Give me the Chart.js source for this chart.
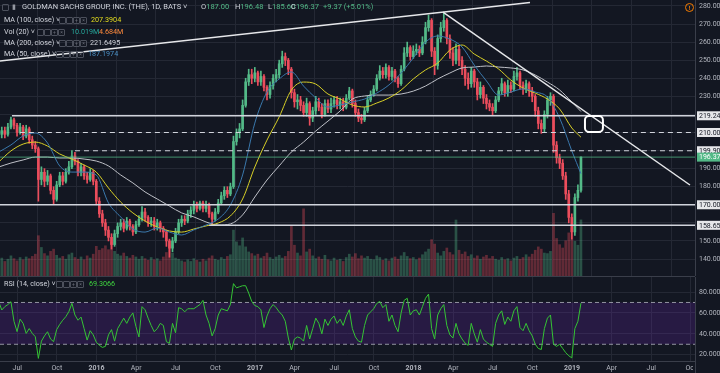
<!DOCTYPE html>
<html>
<head>
<meta charset="utf-8">
<title>GOLDMAN SACHS GROUP, INC. (THE), 1D</title>
<script src="https://cdn.jsdelivr.net/npm/chart.js"></script>
<style>
  body { margin: 0; background: #131722; width: 720px; height: 373px; overflow: hidden; position: relative;
         font-family: Roboto, "Liberation Sans", sans-serif; }
  .pane { position: absolute; left: 0; width: 720px; }
  .t { position: absolute; font-size: 7.2px; line-height: 10px; color: #d1d4dc; white-space: nowrap; z-index: 5; }
  .ico { position: absolute; width: 5px; height: 5px; border: 1px solid #4c505c; border-radius: 1px; z-index: 5;
         font-size: 5px; line-height: 5px; color: #6a6d78; text-align: center; }
  .sep { position: absolute; left: 0; width: 695px; height: 1px; background: #3a3e4a; }
</style>
</head>
<body>
<div class="pane" style="top:0;height:276px"><canvas id="priceChart"></canvas></div>
<div class="sep" style="top:276px"></div>
<div class="pane" style="top:277px;height:96px"><canvas id="rsiChart"></canvas></div>

<div class="ico" style="left:2px;top:4px"></div>
<div class="t" style="left:12px;top:2px;color:#9598a1">&#9646;</div>
<div class="t" style="left:22px;top:2px;font-size:7.5px">GOLDMAN SACHS GROUP, INC. (THE), 1D, BATS &#709;</div>
<div class="t" style="left:201px;top:2px;font-size:7.5px">O<span style="color:#53b987">187.00</span></div>
<div class="t" style="left:235px;top:2px;font-size:7.5px">H<span style="color:#53b987">196.48</span></div>
<div class="t" style="left:268px;top:2px;font-size:7.5px">L<span style="color:#53b987">185.60</span></div>
<div class="t" style="left:291px;top:2px;font-size:7.5px">C<span style="color:#53b987">196.37</span></div>
<div class="t" style="left:323px;top:2px;font-size:7.5px;color:#53b987">+9.37 (+5.01%)</div>

<div class="t" style="left:4px;top:15px">MA (100, close) &#709;</div>
<div class="t" style="left:91px;top:15px;color:#e3dc1e">207.3904</div>
<div class="t" style="left:4px;top:27px">Vol (20) &#709;</div>
<div class="t" style="left:71px;top:27px;color:#26a69a">10.019M</div>
<div class="t" style="left:99px;top:27px;color:#ff8a3d">4.684M</div>
<div class="t" style="left:4px;top:38px">MA (200, close) &#709;</div>
<div class="t" style="left:90px;top:38px;color:#d1d4dc">221.6495</div>
<div class="t" style="left:4px;top:49px">MA (50, close) &#709;</div>
<div class="t" style="left:88px;top:49px;color:#4a8fc4">187.1974</div>
<div class="t" style="left:4px;top:279px">RSI (14, close) &#709;</div>
<div class="t" style="left:89px;top:279px;color:#3ed13e">69.3066</div>
<div style="position:absolute;left:685px;top:3px;width:7px;height:7px;border:1px solid #f57c00;border-radius:50%;
            color:#f57c00;font-size:6px;line-height:7px;text-align:center;font-weight:bold;z-index:5">!</div>

<script>
// ---- data (weekly bars, x in months from Jan 2016) ----
const firstWeek = -7.40;
const firstOpen = 207;

const closes = [
  209, 211, 209, 213, 217, 214, 210, 213, 208, 212,
  206, 203, 201, 184, 188, 183, 186, 178, 173, 181,
  186, 183, 188, 191, 197, 194, 188, 191, 186, 184,
  188, 183, 172, 165, 160, 156, 152, 148, 154, 158,
  160, 157, 161, 158, 155, 159, 162, 166, 163, 160,
  161, 158, 160, 157, 155, 150, 146, 150, 155, 160,
  162, 161, 165, 167, 170, 168, 171, 168, 170, 165,
  162, 166, 171, 175, 178, 176, 180, 205, 210, 212,
  225, 238, 242, 240, 243, 238, 241, 235, 231, 236,
  240, 242, 248, 252, 250, 245, 232, 227, 228, 225,
  221, 226, 218, 222, 227, 224, 220, 226, 223, 226,
  228, 225, 227, 224, 229, 233, 226, 221, 218, 217,
  222, 228, 231, 234, 240, 244, 242, 246, 241, 244,
  240, 237, 245, 254, 257, 252, 255, 256, 254, 260,
  268, 272, 255, 247, 262, 268, 272, 262, 254, 250,
  256, 250, 245, 240, 237, 244, 238, 231, 235, 229,
  226, 224, 222, 228, 233, 237, 232, 236, 234, 241,
  243, 236, 234, 237, 233, 230, 222, 215, 212, 220,
  228, 230, 203, 196, 193, 186, 176, 163, 155, 174,
  178, 196.37
];
const highs = [
  212, 213, 213, 215, 218.5, 218, 215, 215, 214, 214,
  213, 208, 205, 202, 191, 190, 189, 187, 180, 183,
  188, 188, 190, 194, 200, 199, 195, 193, 192, 188,
  190, 189, 184, 174, 167, 162, 158, 154, 156, 160,
  162, 162, 163, 162, 159, 161, 164, 169, 168, 164,
  163, 163, 162, 161, 158, 156, 151, 152, 157, 162,
  164, 164, 167, 169, 172, 171.5, 172, 172, 172, 171,
  166, 168, 173, 177, 180, 180, 182, 208, 212, 215,
  228, 240, 245, 245, 246, 244, 244, 242, 236, 238,
  242, 245, 250, 255, 254, 251, 246, 234, 231, 230,
  227, 229, 227, 224, 230, 229, 226, 228, 228, 229,
  230, 230, 229, 229, 231, 235, 234, 228, 223, 220,
  224, 230, 233, 236, 242, 247, 246, 248, 247, 246,
  245, 241, 247, 257, 260, 258, 258, 259, 258, 263,
  271, 275, 273, 257, 264, 271, 276.5, 273, 264, 257,
  259, 258, 252, 247, 243, 246, 245, 240, 238, 236,
  231, 228, 226, 230, 235, 240, 238, 239, 238, 244,
  246, 244, 238, 239, 238, 235, 231, 224, 217, 222,
  230, 232, 231, 205, 198, 195, 188, 178, 165, 176,
  181, 196.48
];
const lows = [
  205, 207, 207, 208, 212, 212, 208, 209, 206, 207,
  204, 201, 199, 172, 181, 180, 181, 176, 170.5, 172,
  180, 181, 182, 187, 190, 192, 186, 186, 184, 182,
  183, 181, 170, 163, 158, 153, 150, 145.5, 147, 152,
  156, 155, 156, 156, 153, 154, 158, 161, 161, 158,
  158, 156, 156, 155, 152, 147, 141, 144, 149, 154,
  158, 159, 160, 163, 165, 166, 167, 166, 166, 163,
  159, 161, 165, 170, 173, 174, 175, 179, 203, 207,
  211, 224, 236, 237, 238, 236, 236, 233, 228, 229,
  234, 238, 240, 246, 247, 242, 229, 224, 223, 222,
  219, 219, 214, 216, 220, 222, 218, 219, 221, 221,
  224, 223, 223, 222, 223, 228, 224, 219, 216, 215,
  216, 221, 227, 230, 233, 239, 240, 240, 239, 239,
  238, 235, 236, 244, 252, 250, 251, 253, 252, 253,
  259, 266, 252, 242, 245, 260, 266, 259, 251, 247,
  248, 247, 242, 236, 234, 235, 235, 228, 229, 226,
  223, 222, 219.5, 221, 227, 231, 230, 230, 232, 233,
  239, 234, 231, 232, 230, 227, 219, 212, 209.5, 210,
  218, 225, 199, 193, 190, 184, 173, 160, 151, 153,
  172, 177
];
// daily volume, millions
const volumes = [
  2.8, 3.2, 2.6, 3.0, 3.6, 3.1, 2.7, 3.3, 2.9, 3.4,
  3.1, 3.5, 3.9, 7.2, 5.1, 4.0, 3.6, 4.4, 4.8, 3.7,
  3.2, 3.5, 3.0, 3.8, 4.1, 3.3, 3.0, 3.4, 2.9, 3.6,
  3.2, 3.9, 5.3, 4.6, 4.9, 5.4, 4.7, 6.0, 4.4, 3.9,
  3.6, 4.1, 3.5, 3.2, 3.7, 3.4, 3.0, 3.5, 3.1, 2.8,
  3.3, 2.9, 3.1, 2.7, 3.4, 4.2, 5.6, 4.1, 3.2, 3.0,
  2.7, 2.5, 2.9, 2.6, 3.1, 2.8, 2.5, 3.0, 2.7, 3.2,
  3.6, 3.0, 2.8, 3.3, 3.0, 3.5, 3.8, 8.2, 6.1, 5.4,
  6.8, 5.2, 4.3, 4.0, 3.6, 3.9, 3.2, 3.5, 4.1, 3.3,
  3.0, 3.4, 3.7, 3.2, 3.5, 4.4, 9.0, 5.5, 4.1, 3.6,
  12.0, 4.3, 4.8, 3.6, 3.1, 3.4, 3.0, 3.7, 2.9, 2.7,
  3.2, 2.8, 3.0, 2.6, 3.3, 3.9, 3.4, 4.0, 3.1, 3.6,
  3.2, 3.5, 3.0, 2.9, 3.6, 3.3, 2.8, 3.1, 2.7, 3.2,
  3.4, 3.0, 3.6, 4.2, 3.5, 3.1, 3.3, 2.9, 3.2, 3.8,
  4.3, 4.8, 6.5, 5.7, 4.1, 3.6, 4.4, 5.0, 4.2, 3.8,
  10.0, 4.6, 3.9, 4.3, 3.5, 3.8, 3.2, 3.6, 3.0, 3.4,
  3.7, 3.1, 3.5, 3.0, 2.8, 3.3, 2.9, 3.1, 2.7, 3.2,
  3.5, 3.0, 3.3, 3.8, 3.4, 3.9, 4.6, 5.2, 4.8, 4.1,
  4.0, 4.4, 11.2, 6.7, 5.6, 5.0, 6.3, 7.7, 8.5, 6.2,
  5.5, 10.019
];
const rsi14 = [
  70.7, 62.8, 66, 68, 70.7, 52, 42.1, 54, 50, 40.4,
  45, 40.4, 37.2, 16.5, 33, 38, 42, 35, 32.5, 44,
  49, 53, 56.4, 61.2, 69.2, 58, 53, 56, 45, 34,
  43, 39, 32, 29, 27, 28, 39, 44, 33, 45,
  50, 55, 50, 56, 60, 47, 37, 66, 63, 55,
  48, 42, 45, 50, 48, 32.5, 31, 50, 41, 65,
  64, 61, 64, 64, 64, 66, 68, 72, 58, 50,
  38, 45, 58, 64, 63, 62, 68, 88, 84, 85,
  86, 86, 79, 71, 67, 66, 63, 46, 57, 64,
  68, 65, 61, 58, 52, 36, 24.5, 35, 37, 36,
  33, 48, 35, 45, 55, 50, 40, 54, 48, 54,
  57, 50, 54, 48, 57, 63, 45, 37, 33, 32,
  48, 58, 61, 64, 69, 71, 65, 68, 52, 58,
  48, 42, 60, 72, 74, 58, 62, 63, 58, 66,
  74, 78, 45, 35, 58, 64, 68, 48, 39, 36,
  50, 40, 35, 31, 29, 50, 40, 32, 44, 35,
  32, 30, 28, 50, 58, 62, 49, 56, 52, 62,
  66, 46, 43, 50, 43, 38, 30, 26, 25, 45,
  55, 58, 30, 28, 30, 26, 22, 19, 17, 45,
  52, 69.3066
];
// moving averages, read every 4th week plus the last bar
const ma50 = [199.2, 203.1, 208.1, 209.7, 204.2, 191.5, 188.1, 188.1, 186.5, 171.0,
  163.3, 156.6, 154.9, 157.2, 154.9, 153.3, 156.1, 158.8, 162.1, 169.9,
  186.5, 215.2, 232.4, 239.6, 243.5, 235.7, 229.1, 224.1, 225.2, 226.9,
  228.5, 231.8, 236.3, 242.9, 251.2, 260.0, 263.4, 261.7, 257.3, 247.3,
  238.5, 230.7, 232.4, 234.1, 232.4, 229.6, 218.0, 199.8, 187.2];
const ma100 = [193.7, 199.8, 203.6, 204.7, 202.5, 198.1, 195.3, 192.0, 188.1, 179.3,
  171.5, 165.5, 161.0, 157.7, 155.5, 154.9, 156.6, 158.3, 159.9, 163.8,
  173.2, 190.9, 205.8, 218.6, 233.5, 237.9, 236.8, 231.3, 228.5, 225.2,
  224.1, 226.3, 229.1, 233.5, 239.6, 244.6, 248.4, 255.6, 258.4, 253.4,
  249.5, 245.1, 239.0, 234.6, 231.8, 228.5, 223.0, 212.5, 207.4];
const ma200 = [190.9, 193.1, 194.8, 196.4, 196.4, 195.9, 195.9, 195.3, 194.2, 191.5,
  186.5, 182.1, 177.1, 173.2, 169.3, 165.5, 163.3, 160.5, 158.8, 159.4,
  164.4, 174.3, 183.7, 191.5, 199.2, 204.7, 210.8, 216.3, 221.9, 228.5,
  230.2, 230.7, 230.7, 231.3, 232.9, 235.7, 239.6, 242.9, 245.7, 246.2,
  246.8, 246.2, 245.7, 244.6, 241.8, 237.9, 233.5, 226.9, 221.6];

const priceTicks = [140, 150, 160, 170, 180, 190, 200, 210, 220, 230, 240, 250, 260, 270, 280];
const priceTickHidden = [160, 170, 200, 210, 220];
const rsiTicks = [20, 40, 60, 80];
const rsiBands = [70, 30];
const timeTicks = [-6, -3, 0, 3, 6, 9, 12, 15, 18, 21, 24, 27, 30, 33, 36, 39, 42, 45];
const timeLabels = ['Jul', 'Oct', '2016', 'Apr', 'Jul', 'Oct', '2017', 'Apr', 'Jul', 'Oct',
                    '2018', 'Apr', 'Jul', 'Oct', '2019', 'Apr', 'Jul', 'Oct'];

// drawn levels / trend lines (price, and month where they start)
const solidLevels = [219.24, 170.00, 158.65];
const solidFrom = [-6.40, -7.31, 8.53];
const dashedLevels = [210.00, 199.90];
const dashedFrom = [-5.80, -1.63];
const lastPrice = 196.37;
const trendUp = [[-7.31, 249.5], [32.82, 281.9]];
const trendDown = [[26.23, 276.6], [44.93, 180.95]];
const markBox = [36.98, 210.3, 38.34, 219.1];

// ---- setup ----
const X_MIN = -7.305, X_MAX = 45.31;
const BG = '#131722', GRID = '#242834', AXIS = '#3a3e4a', TXT = '#b2b5be';
const UP = '#53b987', DOWN = '#eb4d5c';

const weekX = i => firstWeek + i * 12 / 52;
const opens = closes.map((c, i) => i === 0 ? firstOpen : closes[i - 1]);
const isUp = closes.map((c, i) => c >= opens[i]);
const candleCol = isUp.map(u => u ? UP : DOWN);
const volCol = isUp.map(u => u ? 'rgba(83,185,135,0.36)' : 'rgba(235,77,92,0.36)');
const maWeeks = ma50.map((v, k) => k === ma50.length - 1 ? closes.length - 1 : k * 4);

function maData(arr) {
  return arr.map((v, k) => ({ x: weekX(maWeeks[k]), y: v }));
}
function hline(y, from, color, dash, width) {
  return { type: 'line', data: [{ x: from, y: y }, { x: X_MAX, y: y }], borderColor: color,
           borderWidth: width, borderDash: dash, pointRadius: 0, order: 3, yAxisID: 'y' };
}
function noPad(s) { s.paddingTop = 0; s.paddingBottom = 0; s.paddingLeft = 0; s.paddingRight = 0; }

const timeAxis = (showLabels) => ({
  type: 'linear', min: X_MIN, max: X_MAX, offset: false,
  grid: { color: GRID, drawTicks: false },
  border: { display: showLabels, color: AXIS },
  ticks: {
    display: showLabels, autoSkip: false, maxRotation: 0, padding: 3, color: TXT,
    font: (c) => ({ size: 7, family: 'Roboto', weight: /\d/.test(timeLabels[c.index] || '') ? 'bold' : 'normal' }),
    callback: (v, i) => timeLabels[i]
  },
  afterBuildTicks: s => { s.ticks = timeTicks.map(v => ({ value: v })); },
  afterFit: s => { s.height = showLabels ? 12 : 0; noPad(s); }
});

const tagPlugin = {
  id: 'tags',
  afterDatasetsDraw(chart) {
    const { ctx, scales: { x, y } } = chart;
    const l = x.getPixelForValue(markBox[0]), r = x.getPixelForValue(markBox[2]);
    const t = y.getPixelForValue(markBox[3]), b = y.getPixelForValue(markBox[1]);
    ctx.save();
    ctx.strokeStyle = '#ffffff';
    ctx.lineWidth = 2;
    ctx.beginPath();
    ctx.roundRect(l, t, r - l, b - t, 4);
    ctx.stroke();
    ctx.restore();
  },
  afterDraw(chart) {
    const { ctx, scales: { y } } = chart;
    const tags = solidLevels.concat(dashedLevels).map(v => ({ v, bg: '#e6e7ea', fg: '#131722' }));
    tags.push({ v: lastPrice, bg: UP, fg: '#ffffff' });
    ctx.save();
    ctx.font = '7px Roboto';
    ctx.textBaseline = 'middle';
    tags.forEach(tg => {
      const py = y.getPixelForValue(tg.v);
      ctx.fillStyle = tg.bg;
      ctx.fillRect(697, py - 4.5, 23, 9);
      ctx.fillStyle = tg.fg;
      ctx.fillText(tg.v.toFixed(2), 699, py + 0.5);
    });
    ctx.restore();
  }
};

new Chart(document.getElementById('priceChart'), {
  type: 'bar',
  data: {
    datasets: [
      { type: 'bar', yAxisID: 'yv', grouped: false, barThickness: 2, order: 10,
        data: volumes.map((v, i) => ({ x: weekX(i), y: v })), backgroundColor: volCol },
      { type: 'bar', yAxisID: 'y', grouped: false, barThickness: 1, order: 9,
        data: closes.map((c, i) => ({ x: weekX(i), y: [lows[i], highs[i]] })), backgroundColor: candleCol },
      { type: 'bar', yAxisID: 'y', grouped: false, barThickness: 2, minBarLength: 1, order: 8,
        data: closes.map((c, i) => ({ x: weekX(i), y: [opens[i], c] })), backgroundColor: candleCol },
      { type: 'line', yAxisID: 'y', data: maData(ma200), borderColor: '#bfc1c8', borderWidth: 1,
        pointRadius: 0, tension: 0.4, cubicInterpolationMode: 'monotone', order: 6 },
      { type: 'line', yAxisID: 'y', data: maData(ma100), borderColor: '#d8d027', borderWidth: 1,
        pointRadius: 0, tension: 0.4, cubicInterpolationMode: 'monotone', order: 5 },
      { type: 'line', yAxisID: 'y', data: maData(ma50), borderColor: '#3b79ad', borderWidth: 1,
        pointRadius: 0, tension: 0.4, cubicInterpolationMode: 'monotone', order: 4 },
      hline(lastPrice, X_MIN, 'rgba(83,185,135,0.75)', [], 1),
      ...solidLevels.map((v, i) => hline(v, solidFrom[i], '#d1d4dc', [], 1.5)),
      ...dashedLevels.map((v, i) => hline(v, dashedFrom[i], '#d1d4dc', [5, 4], 1.2)),
      { type: 'line', yAxisID: 'y', data: trendUp.map(p => ({ x: p[0], y: p[1] })), borderColor: '#e6e7ea',
        borderWidth: 1.5, pointRadius: 0, order: 2 },
      { type: 'line', yAxisID: 'y', data: trendDown.map(p => ({ x: p[0], y: p[1] })), borderColor: '#e6e7ea',
        borderWidth: 1.5, pointRadius: 0, order: 2 }
    ]
  },
  options: {
    responsive: true, maintainAspectRatio: false, animation: false,
    layout: { padding: 0 },
    plugins: { legend: { display: false }, tooltip: { enabled: false } },
    scales: {
      x: timeAxis(false),
      y: {
        type: 'linear', position: 'right', min: 130.6, max: 283.3,
        grid: { color: GRID, drawTicks: false },
        border: { color: AXIS },
        ticks: { color: TXT, font: { size: 7, family: 'Roboto' }, padding: 4,
                 callback: v => priceTickHidden.includes(v) ? '' : v.toFixed(2) },
        afterBuildTicks: s => { s.ticks = priceTicks.map(v => ({ value: v })); },
        afterFit: s => { s.width = 25; noPad(s); }
      },
      yv: { type: 'linear', display: false, min: 0, max: 49.3 }
    }
  },
  plugins: [tagPlugin]
});

const clipPlugin = {
  id: 'clipTime',
  afterDraw(chart) {
    const { ctx, chartArea } = chart;
    ctx.save();
    ctx.fillStyle = BG;
    ctx.fillRect(chartArea.right - 2, chartArea.bottom + 1, 30, 20);
    ctx.fillStyle = AXIS;
    ctx.fillRect(chartArea.right, chartArea.bottom + 1, 1, 20);
    ctx.restore();
  }
};

new Chart(document.getElementById('rsiChart'), {
  type: 'line',
  data: {
    datasets: [
      { data: [{ x: X_MIN, y: rsiBands[0] }, { x: X_MAX, y: rsiBands[0] }], borderColor: 'rgba(200,202,210,0.7)',
        borderWidth: 1, borderDash: [4, 3], pointRadius: 0, order: 3 },
      { data: [{ x: X_MIN, y: rsiBands[1] }, { x: X_MAX, y: rsiBands[1] }], borderColor: 'rgba(200,202,210,0.7)',
        borderWidth: 1, borderDash: [4, 3], pointRadius: 0, fill: '-1',
        backgroundColor: 'rgba(120,40,200,0.2)', order: 3 },
      { data: rsi14.map((v, i) => ({ x: weekX(i), y: v })), borderColor: '#35c435', borderWidth: 1,
        pointRadius: 0, tension: 0, order: 1 }
    ]
  },
  options: {
    responsive: true, maintainAspectRatio: false, animation: false,
    layout: { padding: 0 },
    plugins: { legend: { display: false }, tooltip: { enabled: false } },
    scales: {
      x: timeAxis(true),
      y: {
        type: 'linear', position: 'right', min: 14, max: 94.35,
        grid: { color: GRID, drawTicks: false },
        border: { color: AXIS },
        ticks: { color: TXT, font: { size: 7, family: 'Roboto' }, padding: 4, callback: v => v.toFixed(4) },
        afterBuildTicks: s => { s.ticks = rsiTicks.map(v => ({ value: v })); },
        afterFit: s => { s.width = 25; noPad(s); }
      }
    }
  },
  plugins: [clipPlugin]
});

// small indicator buttons next to the legend titles
[[59, 17], [37, 29], [59, 40], [56, 51], [56, 281]].forEach(([x0, y0]) => {
  ['', '', '+', '\u00d7'].forEach((g, k) => {
    const d = document.createElement('div');
    d.className = 'ico';
    d.style.left = (x0 + k * 7) + 'px';
    d.style.top = y0 + 'px';
    d.textContent = g;
    document.body.appendChild(d);
  });
});
</script>
</body>
</html>
